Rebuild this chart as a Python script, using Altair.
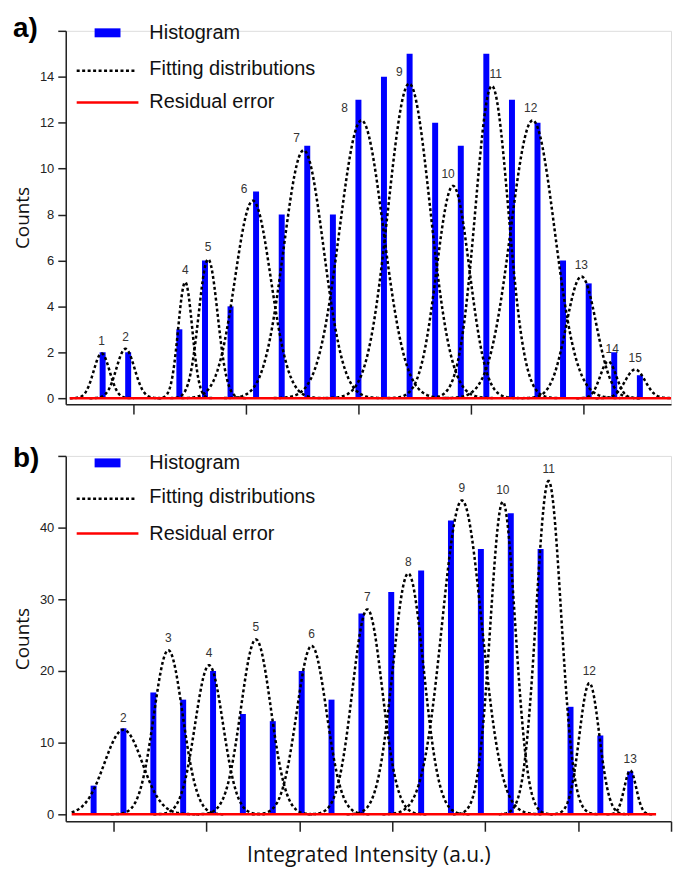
import altair as alt
import numpy as np
import pandas as pd

# ---------------- Panel a data ----------------
a_bin_x = [0.726, 0.953, 1.408, 1.636, 1.863, 2.090, 2.318, 2.545, 2.773, 3.000, 3.227,
           3.455, 3.682, 3.910, 4.137, 4.365, 4.592, 4.819, 5.047, 5.274, 5.502]
a_counts = [2, 2, 3, 6, 4, 9, 8, 11, 8, 13, 14, 15, 12, 11, 15, 13, 12, 6, 5, 2, 1]
a_peak_id = [1, 2, 4, 5, 6, 7, 8, 9, 10, 11, 12, 13, 14, 15]
a_peak_center = [0.717, 0.929, 1.460, 1.664, 2.062, 2.513, 3.027, 3.451, 3.841, 4.186,
                 4.549, 4.982, 5.221, 5.460]
a_peak_amp = [1.95, 2.15, 5.05, 6.05, 8.6, 10.8, 12.1, 13.7, 9.25, 13.6, 12.1, 5.3, 1.6, 1.25]
a_peak_sigma = [0.071, 0.080, 0.062, 0.084, 0.159, 0.177, 0.195, 0.186, 0.146, 0.146,
                0.195, 0.133, 0.071, 0.088]
a_resid_x = [0.434, 5.779]
a_resid_y = [0, 0]
a_xticks = [1, 2, 3, 4, 5]
a_yticks = [0, 2, 4, 6, 8, 10, 12, 14, 16]

# ---------------- Panel b data ----------------
b_bin_x = [0.786, 1.107, 1.429, 1.750, 2.072, 2.393, 2.715, 3.026, 3.347, 3.669, 3.990,
           4.312, 4.633, 4.955, 5.277, 5.598, 5.920, 6.241, 6.563]
b_counts = [4, 12, 17, 16, 20, 14, 13, 20, 16, 28, 31, 34, 41, 37, 42, 37, 15, 11, 6]
b_peak_id = [2, 3, 4, 5, 6, 7, 8, 9, 10, 11, 12, 13]
b_peak_center = [1.107, 1.590, 2.029, 2.533, 3.133, 3.733, 4.173, 4.751, 5.191, 5.684,
                 6.123, 6.563]
b_peak_amp = [11.8, 22.9, 20.8, 24.4, 23.5, 28.6, 33.6, 43.8, 43.6, 46.5, 18.3, 6.1]
b_peak_sigma = [0.204, 0.155, 0.150, 0.161, 0.161, 0.161, 0.166, 0.214, 0.134, 0.134,
                0.107, 0.064]
b_resid_x = [0.550, 6.841]
b_resid_y = [0, 0]
b_xticks = [1, 2, 3, 4, 5, 6, 7]
b_yticks = [0, 10, 20, 30, 40, 50]

# label pixel nudges (style only)
a_label_dx = [0, 0, 0, 0, -9, -7, -17, -10, -5, 4, -2, 0, 4, 0]
b_label_dx = [0] * 12

BLUE = "#0000ff"
AXC = "#222222"
W = 608


def curves(ids, centers, amps, sigmas, lo, hi):
    rows = []
    for i, c, a, s in zip(ids, centers, amps, sigmas):
        xs = np.linspace(max(c - 4 * s, lo), min(c + 4 * s, hi), 160)
        ys = a * np.exp(-0.5 * ((xs - c) / s) ** 2)
        rows += [{"peak": i, "x": float(x), "y": float(y)} for x, y in zip(xs, ys)]
    return pd.DataFrame(rows)


def panel(tag, bins, counts, ids, centers, amps, sigmas, ldx, resid_x, resid_y,
          xdom, ydom, xticks, yticks, height, leg_y, xtitle):
    ppu = W / (xdom[1] - xdom[0])
    xa = alt.Axis(values=xticks, labels=False, ticks=True, tickSize=10, tickWidth=1.5,
                  tickColor=AXC, domainColor=AXC, domainWidth=1.5, grid=False,
                  title=xtitle if xtitle else None, titleFont="Open Sans",
                  titleFontSize=21, titleFontWeight="normal", titleColor="#111",
                  titlePadding=13)
    top = yticks[-1]
    ya = alt.Axis(values=yticks, labelExpr=f"datum.value == {top} ? '' : datum.label",
                  tickSize=8, tickWidth=1.5, tickColor=AXC, domainColor=AXC,
                  domainWidth=1.5, grid=False, labelFont="Liberation Sans",
                  labelFontSize=13, labelColor=AXC, labelPadding=4,
                  title="Counts", titleFont="Open Sans", titleFontSize=19,
                  titleFontWeight="normal", titleColor="#111", titlePadding=7)
    xs = alt.Scale(domain=xdom, nice=False, zero=False, padding=0)
    ys = alt.Scale(domain=ydom, nice=False, zero=False, padding=0)

    bars_df = pd.DataFrame({"x": bins, "y": counts})
    cur_df = curves(ids, centers, amps, sigmas, resid_x[0], resid_x[1])
    lab_df = pd.DataFrame({"x": [c + d / ppu for c, d in zip(centers, ldx)],
                           "y": amps, "t": [str(i) for i in ids]})
    res_df = pd.DataFrame({"x": resid_x, "y": resid_y})

    bars = alt.Chart(bars_df).mark_bar(size=6, color=BLUE).encode(
        x=alt.X("x:Q", scale=xs, axis=xa),
        y=alt.Y("y:Q", scale=ys, axis=ya),
        y2=alt.datum(0),
    )
    lines = alt.Chart(cur_df).mark_line(
        color="black", strokeWidth=2.5, strokeDash=[3, 2.5], strokeCap="butt"
    ).encode(
        x=alt.X("x:Q", scale=xs, axis=xa),
        y=alt.Y("y:Q", scale=ys, axis=ya),
        detail="peak:N",
    )
    labels = alt.Chart(lab_df).mark_text(
        font="Liberation Sans", fontSize=12, color="#333", dy=-12, baseline="middle"
    ).encode(
        x=alt.X("x:Q", scale=xs, axis=xa),
        y=alt.Y("y:Q", scale=ys, axis=ya),
        text="t:N",
    )
    resid = alt.Chart(res_df).mark_line(color="#ff0000", strokeWidth=2.5).encode(
        x=alt.X("x:Q", scale=xs, axis=xa),
        y=alt.Y("y:Q", scale=ys, axis=ya),
    )

    one = alt.Data(values=[{"k": 1}])
    y0, y1, y2 = leg_y
    leg_rect = alt.Chart(one).mark_rect(color=BLUE).encode(
        x=alt.value(29), x2=alt.value(55), y=alt.value(y0 - 4.5), y2=alt.value(y0 + 4.5))
    leg_dot = alt.Chart(one).mark_rule(
        color="black", strokeWidth=2.5, strokeDash=[3, 2.5], strokeCap="butt").encode(
        x=alt.value(11), x2=alt.value(70), y=alt.value(y1))
    leg_red = alt.Chart(one).mark_rule(color="#ff0000", strokeWidth=2.5).encode(
        x=alt.value(11), x2=alt.value(73), y=alt.value(y2))
    leg_txt = []
    for txt, yy in [("Histogram", y0), ("Fitting distributions", y1 - 2),
                    ("Residual error", y2)]:
        leg_txt.append(alt.Chart(one).mark_text(
            text=txt, font="Liberation Sans", fontSize=20, color="#111",
            align="left", baseline="middle").encode(x=alt.value(84), y=alt.value(yy)))
    tag_txt = alt.Chart(one).mark_text(
        text=tag, font="Liberation Sans", fontSize=28, fontWeight="bold",
        color="black", align="left", baseline="middle").encode(
        x=alt.value(-53), y=alt.value(leg_y[0] - 4))

    return alt.layer(bars, lines, resid, labels, leg_rect, leg_dot, leg_red,
                     *leg_txt, tag_txt).properties(width=W, height=height)


pa = panel("a)", a_bin_x, a_counts, a_peak_id, a_peak_center, a_peak_amp, a_peak_sigma,
           a_label_dx, a_resid_x, a_resid_y, [0.398, 5.779], [-0.26, 16], a_xticks,
           a_yticks, 375, (2, 40, 72), None)
pb = panel("b)", b_bin_x, b_counts, b_peak_id, b_peak_center, b_peak_amp, b_peak_sigma,
           b_label_dx, b_resid_x, b_resid_y, [0.486, 7.002], [-0.97, 50], b_xticks,
           b_yticks, 367, (7, 43, 78), "Integrated Intensity (a.u.)")

chart = alt.vconcat(pa, pb, spacing=52, bounds="flush").properties(
    padding={"left": 4, "top": 4, "right": 0, "bottom": 0}
).configure_view(stroke=None).configure(background="white")

chart.save("out.html", embed_options={"renderer": "svg", "actions": False})
